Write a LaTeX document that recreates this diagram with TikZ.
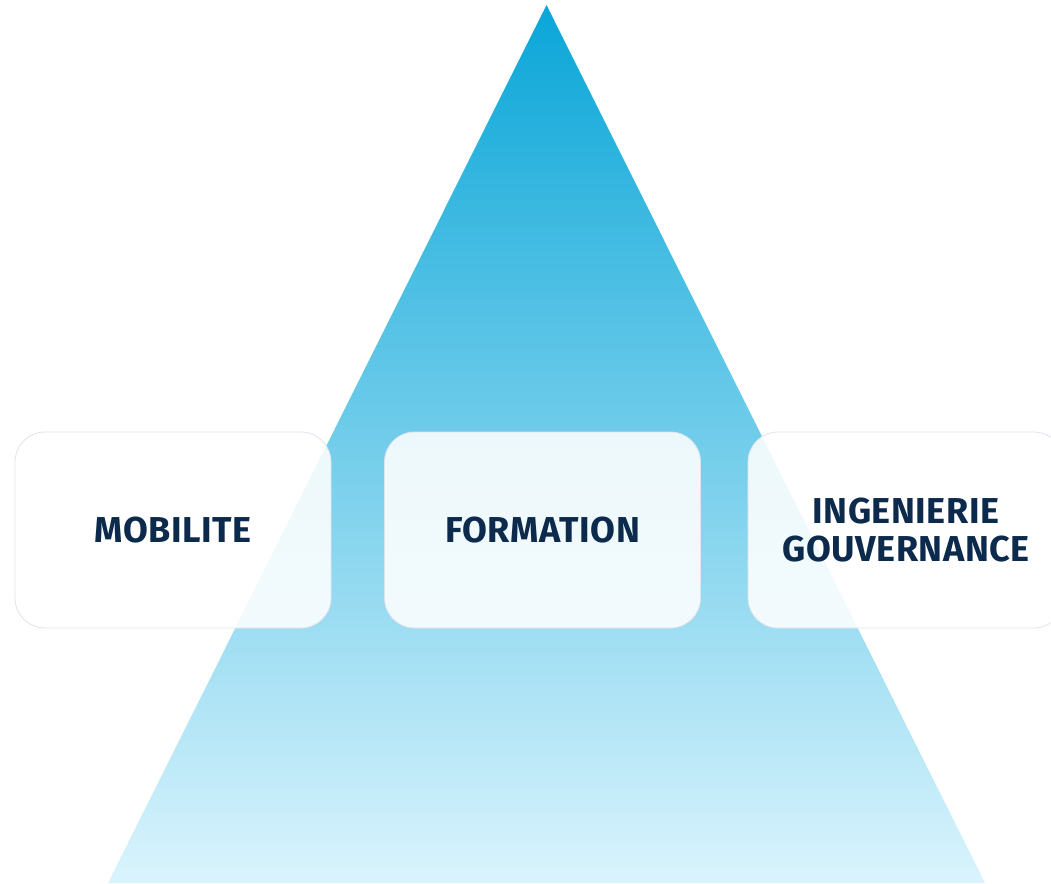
\documentclass[tikz,border=0pt]{standalone}
\usepackage{fontspec}
\setmainfont{Fira Sans}[LetterSpace=1.5]
\usetikzlibrary{positioning,shadings}
\definecolor{topColor}{HTML}{0AA6D8}
\definecolor{midColor}{HTML}{68CAEA}
\definecolor{botColor}{HTML}{DAF4FD}
\definecolor{txtColor}{HTML}{0C2A4C}
\definecolor{edgeColor}{HTML}{DFE3EE}
\tikzset{
	pillar/.style={draw=edgeColor, line width=0.8pt, fill=white, fill opacity=0.88,
		text opacity=1, rounded corners=30pt, minimum width=316pt, minimum height=196pt,
		align=center, text=txtColor, font=\bfseries\fontsize{36}{38}\selectfont}
}

\begin{document}
\begin{tikzpicture}[x=1pt,y=-1pt]
	\useasboundingbox (0,0) rectangle (1051,883);
	\clip (0,0) rectangle (1051,883);
	
	% pyramid
	\coordinate (apex) at (546.5,5);
	\coordinate (baseL) at (108,883);
	\coordinate (baseR) at (985,883);
	\shade[top color=topColor, middle color=midColor, bottom color=botColor]
		(apex) -- (baseR) -- (baseL) -- cycle;
	
	\node[pillar] (mob) at (173,530) {MOBILITE};
	\node[pillar] (form) at (542.5,530) {FORMATION};
	\node[pillar] (ing) at (906,530) {INGENIERIE\\GOUVERNANCE};
\end{tikzpicture}
\end{document}
